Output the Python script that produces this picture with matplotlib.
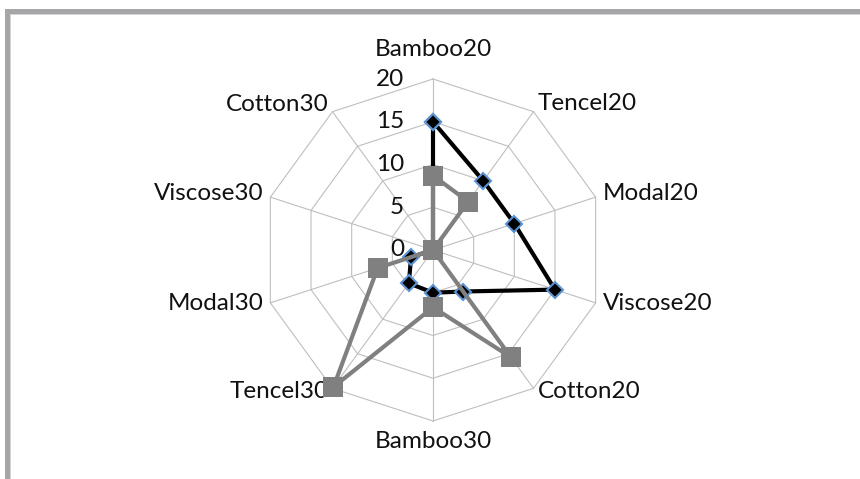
import numpy as np
import matplotlib
matplotlib.use("Agg")
import matplotlib.pyplot as plt
from matplotlib.patches import Rectangle

categories = ["Bamboo20", "Tencel20", "Modal20", "Viscose20", "Cotton20",
              "Bamboo30", "Tencel30", "Modal30", "Viscose30", "Cotton30"]
series_black = [15, 10, 10, 15, 6, 5, 4.8, 2.7, 0, 0]
series_gray = [8.7, 7, 0, 0, 15.5, 6.7, 19.8, 6.8, 0, 0]
r_ticks = [0, 5, 10, 15, 20]

plt.rcParams['font.family'] = ['Lato', 'DejaVu Sans']

W, H = 860, 479
fig = plt.figure(figsize=(W / 100, H / 100), dpi=100)

cx, cy, R = 433, 250, 171
ax = fig.add_axes([(cx - R) / W, (H - cy - R) / H, 2 * R / W, 2 * R / H], projection='polar')
ax.set_theta_zero_location('N')
ax.set_theta_direction(-1)
ax.set_ylim(0, 20)
ax.axis('off')

n = len(categories)
theta = np.linspace(0, 2 * np.pi, n, endpoint=False)
theta_c = np.append(theta, theta[0])

grid_col = '#bfbfbf'
for rv in r_ticks[1:]:
    ax.plot(theta_c, [rv] * (n + 1), color=grid_col, lw=0.8, zorder=1, clip_on=False)
for t in theta:
    ax.plot([t, t], [0, 20], color=grid_col, lw=0.8, zorder=1, clip_on=False)

b = np.append(series_black, series_black[0])
g = np.append(series_gray, series_gray[0])
ax.plot(theta_c, b, color='black', lw=3.0, zorder=3, clip_on=False,
        marker='D', markersize=8.5, markerfacecolor='black',
        markeredgecolor='#5b93d3', markeredgewidth=1.5)
ax.plot(theta_c, g, color='#808080', lw=3.0, zorder=4, clip_on=False,
        marker='s', markersize=14, markerfacecolor='#808080',
        markeredgecolor='#808080', markeredgewidth=0)

fs = 17.5
for rv in r_ticks:
    ax.annotate(str(rv), xy=(0, rv), xytext=(-29, 0), textcoords='offset pixels',
                ha='right', va='center', fontsize=fs, color='#111111')

offsets = [(0, 29, 'center'), (4, 8, 'left'), (7, 4, 'left'), (7, -1, 'left'),
           (4, -3, 'left'), (0, -21, 'center'), (-4, -3, 'right'), (-7, -1, 'right'),
           (-7, 4, 'right'), (-4, 7, 'right')]
for t, lab, (dx, dy, ha) in zip(theta, categories, offsets):
    ax.annotate(lab, xy=(t, 20), xytext=(dx, dy), textcoords='offset pixels',
                ha=ha, va='center', fontsize=fs, color='#111111')

# frame (top and left border)
border = '#a6a6a8'
fig.add_artist(Rectangle((5 / W, 0), 5 / W, (H - 9) / H, transform=fig.transFigure,
                         facecolor=border, edgecolor='none'))
fig.add_artist(Rectangle((5 / W, (H - 14) / H), (W - 5) / W, 5 / H, transform=fig.transFigure,
                         facecolor=border, edgecolor='none'))
fig.add_artist(Rectangle((10 / W, 0), 1 / W, (H - 14) / H, transform=fig.transFigure,
                         facecolor='#d4d4d6', edgecolor='none'))
fig.add_artist(Rectangle((10 / W, (H - 15) / H), (W - 10) / W, 1 / H, transform=fig.transFigure,
                         facecolor='#d4d4d6', edgecolor='none'))

fig.savefig('out.png', dpi=100)
